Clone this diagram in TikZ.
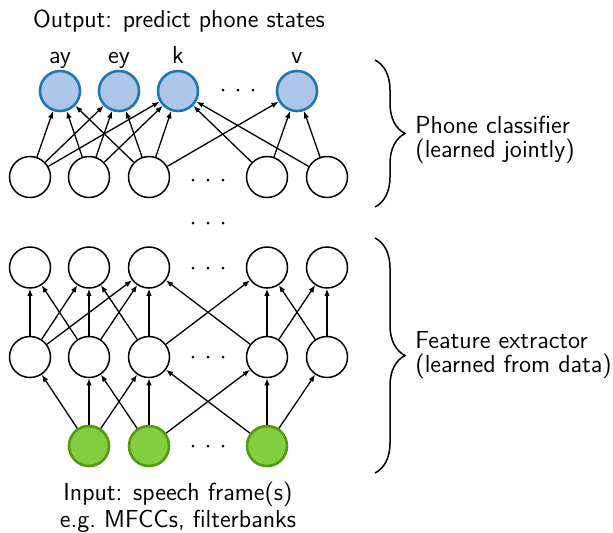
\documentclass[tikz,border=0pt]{standalone}
\usetikzlibrary{arrows.meta,decorations.pathreplacing}
\definecolor{outfill}{RGB}{174,199,232}
\definecolor{outdraw}{RGB}{31,119,180}
\definecolor{infill}{RGB}{130,206,62}
\definecolor{indraw}{RGB}{84,154,16}
\begin{document}
\begin{tikzpicture}[x=0.5pt,y=-0.5pt,
  every node/.style={font=\sffamily\fontsize{12.3}{13.5}\selectfont},
  unit/.style={circle,draw=black,line width=0.75pt,fill=white,minimum size=41pt*0.5,inner sep=0pt},
  outunit/.style={circle,draw=outdraw,fill=outfill,line width=1.3pt,minimum size=40pt*0.5,inner sep=0pt},
  inunit/.style={circle,draw=indraw,fill=infill,line width=1.3pt,minimum size=40pt*0.5,inner sep=0pt},
  conn/.style={-{Latex[length=3.6pt,width=2.8pt]},line width=0.65pt},
  dotmark/.style={circle,fill=black,inner sep=0pt,minimum size=1.5pt},
  bracestyle/.style={decorate,decoration={brace,amplitude=15pt},line width=0.75pt},
  lbl/.style={anchor=base west,inner sep=0pt}]
\useasboundingbox (0,0) rectangle (613,532);
% output row
\node[outunit] (o1) at (60,91) {};
\node[outunit] (o2) at (119,91) {};
\node[outunit] (o3) at (178,91) {};
\node[outunit] (o4) at (297,91) {};
\node[anchor=base,inner sep=0pt] (lo1) at (60,63) {ay};
\node[anchor=base,inner sep=0pt] (lo2) at (119,63) {ey};
\node[anchor=base,inner sep=0pt] (lo3) at (178,63) {k};
\node[anchor=base,inner sep=0pt] (lo4) at (297,63) {v};
\node[anchor=base,inner sep=0pt] (title) at (179,27) {Output: predict phone states};
\node[dotmark] (od1) at (223,90) {};
\node[dotmark] (od2) at (238,90) {};
\node[dotmark] (od3) at (253,90) {};
% top hidden row
\foreach \n/\x in {1/30,2/89,3/149,4/267,5/327}{\node[unit] (h\n) at (\x,177) {};}
\node[dotmark] (hd1) at (193,180) {};
\node[dotmark] (hd2) at (208,180) {};
\node[dotmark] (hd3) at (223,180) {};
% vertical dots
\node[dotmark] (vd1) at (193,223) {};
\node[dotmark] (vd2) at (208,223) {};
\node[dotmark] (vd3) at (223,223) {};
% upper feature row
\foreach \n/\x in {1/30,2/89,3/149,4/267,5/327}{\node[unit] (u\n) at (\x,267.5) {};}
\node[dotmark] (ud1) at (193,268) {};
\node[dotmark] (ud2) at (208,268) {};
\node[dotmark] (ud3) at (223,268) {};
% lower feature row
\foreach \n/\x in {1/30,2/89,3/149,4/267,5/327}{\node[unit] (l\n) at (\x,357) {};}
\node[dotmark] (ld1) at (193,357) {};
\node[dotmark] (ld2) at (208,357) {};
\node[dotmark] (ld3) at (223,357) {};
% input row
\node[inunit] (i1) at (89,446) {};
\node[inunit] (i2) at (149,446) {};
\node[inunit] (i3) at (267,446) {};
\node[dotmark] (id1) at (193,446) {};
\node[dotmark] (id2) at (208,446) {};
\node[dotmark] (id3) at (223,446) {};
\node[anchor=base,inner sep=0pt] (in1) at (178,500) {Input: speech frame(s)};
\node[anchor=base,inner sep=0pt] (in2) at (178,527) {e.g.\ MFCCs, filterbanks};
% connections top
\foreach \a/\b in {h1/o1,h1/o2,h1/o3,h2/o1,h2/o2,h2/o3,h3/o1,h3/o2,h3/o3,h3/o4,h4/o3,h4/o4,h5/o3,h5/o4}
  {\draw[conn] (\a) -- (\b);}
% connections middle
\foreach \a/\b in {l1/u1,l1/u2,l1/u3,l2/u1,l2/u2,l2/u3,l3/u2,l3/u3,l3/u4,l4/u3,l4/u4,l4/u5,l5/u4,l5/u5}
  {\draw[conn] (\a) -- (\b);}
% connections bottom
\foreach \a/\b in {i1/l1,i1/l2,i1/l3,i2/l2,i2/l3,i2/l4,i3/l3,i3/l4,i3/l5}
  {\draw[conn] (\a) -- (\b);}
% braces
\coordinate (b1t) at (375,60);
\coordinate (b1b) at (375,207);
\coordinate (b2t) at (375,238);
\coordinate (b2b) at (375,473);
\draw[bracestyle] (b1t) -- (b1b);
\draw[bracestyle] (b2t) -- (b2b);
\node[lbl] (pc1) at (415,133) {Phone classifier};
\node[lbl] (pc2) at (415,157) {(learned jointly)};
\node[lbl] (fe1) at (415,348) {Feature extractor};
\node[lbl] (fe2) at (415,372) {(learned from data)};
\end{tikzpicture}
\end{document}
